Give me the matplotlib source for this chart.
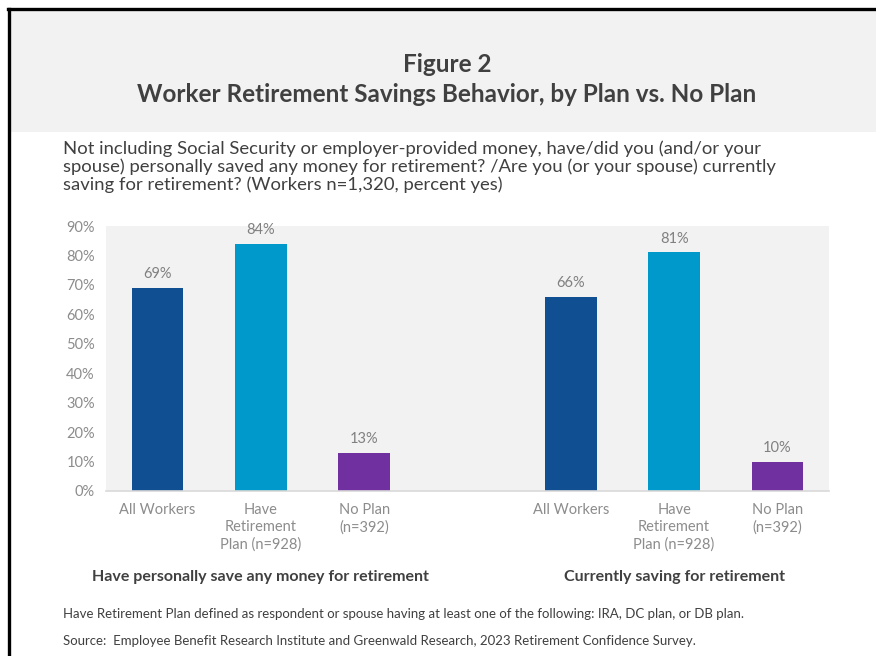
import matplotlib
matplotlib.use("Agg")
import matplotlib.pyplot as plt
from matplotlib.patches import Rectangle
from matplotlib.lines import Line2D

plt.rcParams['font.family'] = ['Lato', 'DejaVu Sans']

# Data
categories = ["All Workers", "Have\nRetirement\nPlan (n=928)", "No Plan\n(n=392)"]
group_titles = ["Have personally save any money for retirement", "Currently saving for retirement"]
saved_any = [69, 84, 13]
currently_saving = [66, 81, 10]
yticks = [0, 10, 20, 30, 40, 50, 60, 70, 80, 90]
bar_colors = ["#0F4F92", "#0099CC", "#7030A0"]

W, H = 876, 656
fig = plt.figure(figsize=(W / 100, H / 100), dpi=100)
fig.patch.set_facecolor("white")

def fx(px):
    return px / W

def fy(py):
    return 1 - py / H

# header band and border
fig.add_artist(Rectangle((fx(10), fy(132)), fx(876) - fx(10), fy(10) - fy(132),
                         transform=fig.transFigure, facecolor="#F2F2F2", edgecolor="none", zorder=0))
fig.add_artist(Line2D([fx(9), fx(9)], [0, fy(9)], transform=fig.transFigure, color="black", lw=2.4))
fig.add_artist(Line2D([fx(8), 1], [fy(9), fy(9)], transform=fig.transFigure, color="black", lw=2.4))

title_color = "#404040"
fig.text(fx(447), fy(65), "Figure 2", ha="center", va="center", fontsize=17.5, fontweight="bold", color=title_color)
fig.text(fx(447), fy(94), "Worker Retirement Savings Behavior, by Plan vs. No Plan", ha="center", va="center",
         fontsize=17.5, fontweight="bold", color=title_color)

sub_lines = ["Not including Social Security or employer-provided money, have/did you (and/or your",
             "spouse) personally saved any money for retirement? /Are you (or your spouse) currently",
             "saving for retirement? (Workers n=1,320, percent yes)"]
for i, s in enumerate(sub_lines):
    fig.text(fx(63), fy(149 + 18 * i), s, ha="left", va="center", fontsize=13.3, color=title_color)

ax = fig.add_axes([fx(106), fy(491), fx(829) - fx(106), fy(226) - fy(491)])
ax.set_facecolor("#F2F2F2")

x1 = [0, 1, 2]
x2 = [4, 5, 6]
ax.bar(x1, saved_any, width=0.5, color=bar_colors, zorder=2)
ax.bar(x2, currently_saving, width=0.5, color=bar_colors, zorder=2)

label_color = "#808080"
for xs, vals in [(x1, saved_any), (x2, currently_saving)]:
    for x, v in zip(xs, vals):
        ax.annotate(f"{v}%", (x, v), xytext=(0, 5), textcoords="offset points",
                    ha="center", va="bottom", fontsize=10.5, color=label_color)

ax.set_xlim(-0.5, 6.5)
ax.set_ylim(0, 90)
ax.set_yticks(yticks)
ax.set_yticklabels([f"{t}%" for t in yticks], fontsize=10.5, color="#8C8C8C")
ax.set_xticks(x1 + x2)
ax.set_xticklabels(categories + categories, fontsize=10.5, color="#8C8C8C", linespacing=1.25, va="top")
ax.tick_params(axis="both", length=0)
ax.tick_params(axis="x", pad=9)
ax.tick_params(axis="y", pad=8)
for sp in ["top", "right", "left"]:
    ax.spines[sp].set_visible(False)
ax.spines["bottom"].set_color("#D9D9D9")
ax.spines["bottom"].set_linewidth(1.2)

fig.text(fx(260), fy(577), group_titles[0], ha="center", va="center", fontsize=11.5,
         fontweight="bold", color=title_color)
fig.text(fx(674), fy(577), group_titles[1], ha="center", va="center", fontsize=11.5,
         fontweight="bold", color=title_color)

fig.text(fx(63), fy(614), "Have Retirement Plan defined as respondent or spouse having at least one of the following: IRA, DC plan, or DB plan.",
         ha="left", va="center", fontsize=9.5, color=title_color)
fig.text(fx(63), fy(641), "Source:  Employee Benefit Research Institute and Greenwald Research, 2023 Retirement Confidence Survey.",
         ha="left", va="center", fontsize=9.5, color=title_color)

fig.savefig("out.png", dpi=100)
